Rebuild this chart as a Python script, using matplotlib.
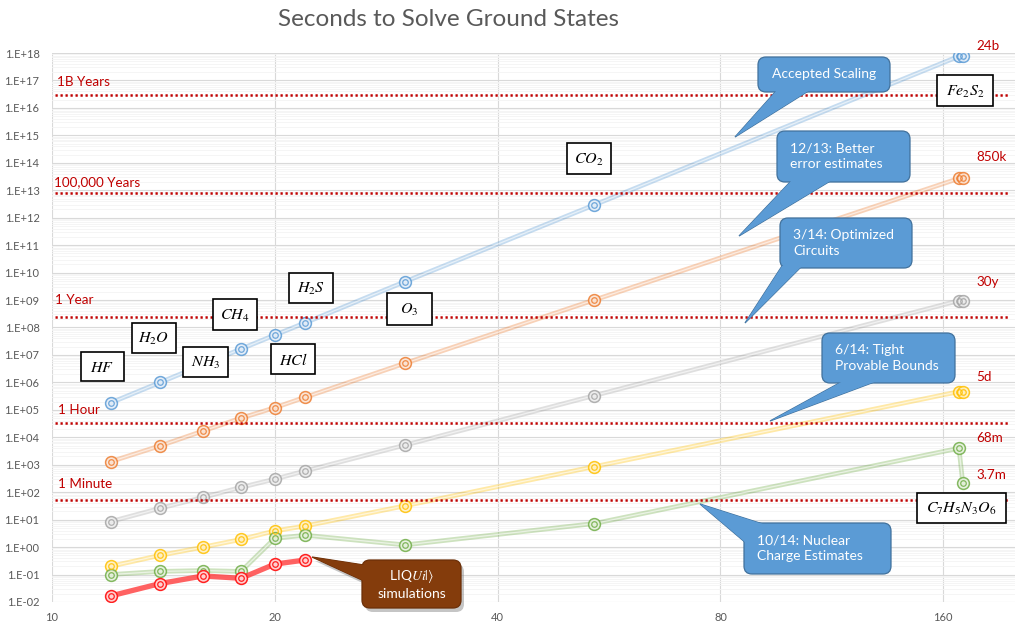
import numpy as np
import matplotlib
matplotlib.use('Agg')
import matplotlib.pyplot as plt
from matplotlib.patches import FancyBboxPatch, Polygon, Rectangle
from matplotlib.ticker import FixedLocator, FuncFormatter, LogLocator, NullLocator
from matplotlib.transforms import Affine2D

plt.rcParams['font.family'] = ['Lato', 'DejaVu Sans']
plt.rcParams['mathtext.fontset'] = 'stix'

W, H = 1023, 625

# data: seconds to solve vs. size
x_ticks = [10, 20, 40, 80, 160]
x_all = [12, 14, 16, 18, 20, 22, 30, 54, 168, 170]
x_blue = [12, 14, 18, 20, 22, 30, 54, 168, 170]
x_red = [12, 14, 16, 18, 20, 22]

blue = [1.8e5, 1.0e6, 1.65e7, 5.3e7, 1.5e8, 4.7e9, 2.9e12, 7.6e17, 7.6e17]
orange = [1.3e3, 4.9e3, 1.7e4, 5.0e4, 1.2e5, 2.9e5, 5.0e6, 1.0e9, 2.7e13, 2.7e13]
gray = [8.5, 26, 65, 150, 300, 600, 5.2e3, 3.3e5, 9.5e8, 9.5e8]
yellow = [0.2, 0.5, 1.0, 1.9, 3.9, 5.9, 32, 850, 4.6e5, 4.6e5]
green = [0.10, 0.13, 0.14, 0.13, 2.1, 2.7, 1.2, 7.2, 4.0e3, 222]
red = [0.0166, 0.047, 0.089, 0.073, 0.24, 0.34]

thresholds = [3.0e16, 8.0e12, 2.4e8, 3.3e4, 50]
threshold_labels = ['1B Years', '100,000 Years', '1 Year', '1 Hour', '1 Minute']
end_labels = ['24b', '850k', '30y', '5d', '68m', '3.7m']
molecules = ['$HF$', '$H_2O$', '$NH_3$', '$CH_4$', '$HCl$', '$H_2S$',
             '$O_3$', '$CO_2$', '$Fe_2S_2$', '$C_7H_5N_3O_6$']

# layout (image pixels, y down)
threshold_label_pos = [(57, 82), (54, 182), (55, 300), (58, 410), (58, 484)]
end_label_pos = [(976, 46), (976, 157), (976, 282), (976, 377), (976, 438), (976, 475)]
molecule_boxes = [(81, 352, 124, 381), (132, 323, 176, 353), (183, 347, 228, 377),
                  (213, 299, 257, 330), (271, 344, 315, 374), (289, 273, 333, 303),
                  (387, 293, 432, 325), (567, 143, 611, 174), (937, 75, 993, 106),
                  (917, 493, 1006, 523)]

fig = plt.figure(figsize=(W / 100, H / 100), dpi=100)
pix = Affine2D().scale(1 / W, -1 / H).translate(0, 1) + fig.transFigure

ax = fig.add_axes([52 / W, 1 - 602 / H, (1015 - 52) / W, (602 - 53) / H])
ax.set_xscale('log', base=2)
ax.set_yscale('log')
ax.set_xlim(10, 200)
ax.set_ylim(1e-2, 1e18)
ax.xaxis.set_major_locator(FixedLocator(x_ticks))
ax.xaxis.set_minor_locator(NullLocator())
ax.xaxis.set_major_formatter(FuncFormatter(lambda v, p: f'{v:g}'))
ax.yaxis.set_major_locator(FixedLocator([10.0 ** k for k in range(-2, 19)]))
ax.yaxis.set_minor_locator(LogLocator(base=10, subs=range(2, 10), numticks=200))
ax.yaxis.set_major_formatter(FuncFormatter(lambda v, p: '1.E%+03d' % round(np.log10(v))))
ax.tick_params(which='both', length=0, labelcolor='#595959', labelsize=8)
ax.tick_params(axis='y', pad=9)
ax.tick_params(axis='x', pad=7)
ax.grid(True, which='major', color='#D9D9D9', lw=0.8)
ax.grid(True, which='minor', axis='y', color='#F4F4F4', lw=0.6)
for s in ax.spines.values():
    s.set_visible(False)


def series(x, y, color, light):
    ax.plot(x, y, color=color, lw=3.4, alpha=0.35, zorder=3)
    ax.plot(x, y, color='white', lw=0.9, alpha=0.6, zorder=3.1)
    ax.plot(x, y, ls='none', marker='o', ms=8.5, mfc=light, mec=color, mew=1.1,
            alpha=0.85, zorder=4)
    ax.plot(x, y, ls='none', marker='o', ms=4, mfc='none', mec=color, mew=0.9,
            alpha=0.85, zorder=4.1)


series(x_blue, blue, '#5B9BD5', '#E3EDF8')
series(x_all, orange, '#ED7D31', '#FBE3D3')
series(x_all, gray, '#A5A5A5', '#EDEDED')
series(x_all, yellow, '#FFC000', '#FFF0C2')
series(x_all, green, '#70AD47', '#E5F0DC')

ax.plot(x_red, red, color='#FF3B3B', lw=3.8, alpha=0.8, zorder=4.5)
ax.plot(x_red, red, ls='none', marker='o', ms=8.5, mfc='#FFD0D0', mec='#FF2020',
        mew=1.1, zorder=4.6)
ax.plot(x_red, red, ls='none', marker='o', ms=4, mfc='none', mec='#FF2020',
        mew=0.9, zorder=4.7)

for v in thresholds:
    ax.axhline(v, xmin=0.003, xmax=0.993, color='#C00000', lw=1.8,
               ls=(0, (0.9, 1.1)), zorder=5)

for lab, (px, py) in zip(threshold_labels, threshold_label_pos):
    fig.text(px, py, lab, transform=pix, color='#C00000', fontsize=9.7,
             ha='left', va='center')
for lab, (px, py) in zip(end_labels, end_label_pos):
    fig.text(px, py, lab, transform=pix, color='#C00000', fontsize=9.7,
             ha='left', va='center')

for lab, (x0, y0, x1, y1) in zip(molecules, molecule_boxes):
    fig.add_artist(Rectangle((x0, y0), x1 - x0, y1 - y0, transform=pix,
                             facecolor='white', edgecolor='black', lw=1.2, zorder=6))
    fig.text((x0 + x1) / 2, (y0 + y1) / 2 + 1, lab, transform=pix, fontsize=11.5,
             ha='center', va='center', zorder=6.1)

fig.text(448, 20, 'Seconds to Solve Ground States', transform=pix, fontsize=17.5,
         color='#595959', ha='center', va='center')


def callout(box, tail, text, face, edge, ha='left', shadow=False):
    x0, y0, x1, y1 = box
    tip, a, b = tail
    layers = [(0, 0, face, edge)]
    if shadow:
        layers = [(3, 4, '#7F7F7F', 'none')] + layers
    for dx, dy, fc, ec in layers:
        alpha = 0.45 if ec == 'none' else 1
        tri = [(tip[0] + dx, tip[1] + dy), (a[0] + dx, a[1] + dy), (b[0] + dx, b[1] + dy)]
        fig.add_artist(Polygon(tri, closed=True, transform=pix, facecolor=fc,
                               edgecolor=ec, lw=0.9, alpha=alpha, zorder=7))
        fig.add_artist(FancyBboxPatch((x0 + dx, y0 + dy), x1 - x0, y1 - y0,
                                      boxstyle='round,pad=0,rounding_size=8',
                                      transform=pix, facecolor=fc, edgecolor=ec,
                                      lw=0.9, alpha=alpha, zorder=7.1))
    fig.add_artist(Polygon([tip, a, b], closed=True, transform=pix, facecolor=face,
                           edgecolor='none', zorder=7.2))
    tx = x0 + 13 if ha == 'left' else (x0 + x1) / 2
    fig.text(tx, (y0 + y1) / 2, text, transform=pix, color='white', fontsize=10,
             ha=ha, va='center', linespacing=1.35, zorder=7.3)


blue_face, blue_edge = '#5B9BD5', '#41719C'
callout((758, 57, 890, 92), ((735, 137), (777, 90), (810, 90)),
        'Accepted Scaling', blue_face, blue_edge, ha='center')
callout((777, 131, 910, 182), ((739, 236), (792, 180), (832, 180)),
        '12/13: Better\nerror estimates', blue_face, blue_edge)
callout((780, 218, 912, 268), ((745, 323), (782, 266), (802, 266)),
        '3/14: Optimized\nCircuits', blue_face, blue_edge)
callout((822, 333, 955, 383), ((770, 421), (843, 381), (877, 381)),
        '6/14: Tight\nProvable Bounds', blue_face, blue_edge)
callout((744, 523, 891, 574), ((700, 504), (746, 543), (766, 525)),
        '10/14: Nuclear\nCharge Estimates', blue_face, blue_edge)
callout((362, 560, 461, 608), ((312, 557), (364, 565), (364, 581)),
        'LIQ$Ui|\\rangle$\nsimulations', '#843C0C', '#6B2F08', ha='center', shadow=True)

fig.savefig('out.png', dpi=100)
